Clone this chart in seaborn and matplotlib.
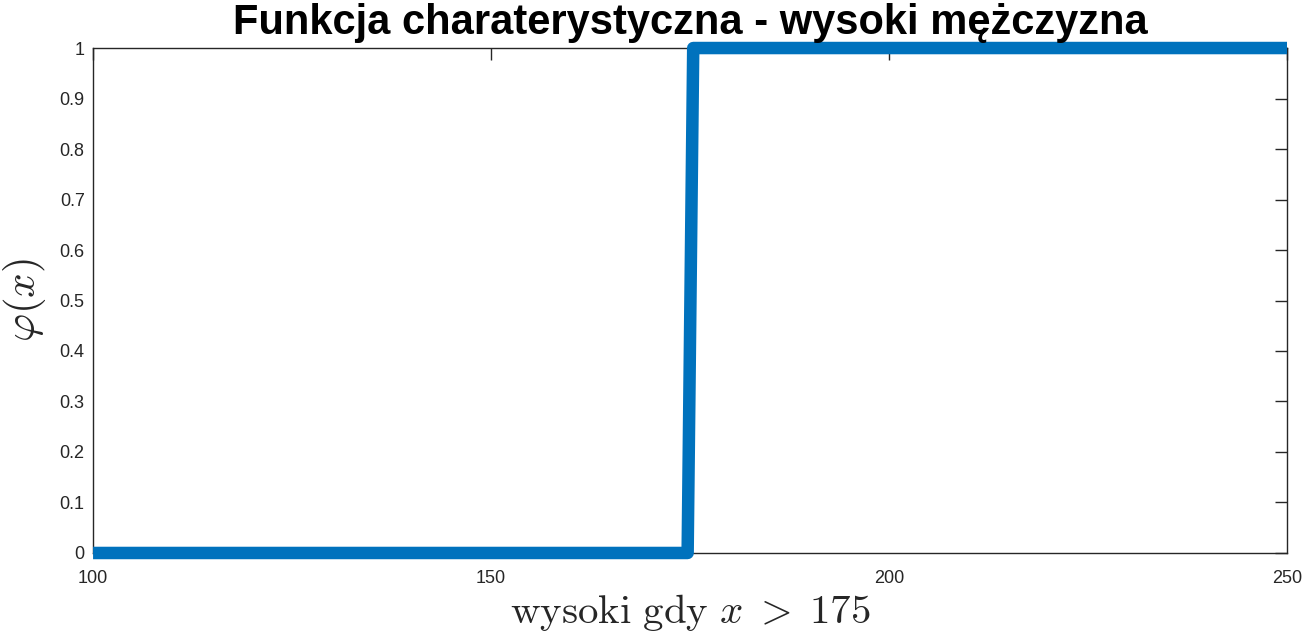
import numpy as np
import matplotlib
matplotlib.use('Agg')
import matplotlib.pyplot as plt
import seaborn as sns
import pandas as pd

# step function data
wzrost = [100, 174.7, 175.4, 250]
phi = [0, 0, 1, 1]

x_ticks = [100, 150, 200, 250]
y_ticks = [0, 0.1, 0.2, 0.3, 0.4, 0.5, 0.6, 0.7, 0.8, 0.9, 1]
y_tick_labels = ['0', '0.1', '0.2', '0.3', '0.4', '0.5', '0.6', '0.7', '0.8', '0.9', '1']

sns.set_style('white')
plt.rcParams['font.family'] = ['Liberation Sans', 'DejaVu Sans']
plt.rcParams['mathtext.fontset'] = 'cm'

df = pd.DataFrame({'x': wzrost, 'phi': phi})

fig = plt.figure(figsize=(13.07, 6.37), dpi=100)
ax = fig.add_axes([0.0712, 0.1319, 0.9135, 0.7927])

sns.lineplot(data=df, x='x', y='phi', ax=ax, color='#0072BD', linewidth=9,
             solid_capstyle='butt', solid_joinstyle='round', clip_on=False, zorder=3)

ax.set_xlim(100, 250)
ax.set_ylim(0, 1)
ax.set_xticks(x_ticks)
ax.set_yticks(y_ticks)
ax.set_yticklabels(y_tick_labels)

for s in ax.spines.values():
    s.set_color('#262626')
    s.set_linewidth(1.0)
ax.tick_params(direction='in', length=8.5, width=1.0, colors='#262626',
               labelsize=13, top=True, right=True, pad=6)
ax.tick_params(axis='x', pad=12)

ax.set_title('Funkcja charaterystyczna - wysoki mężczyzna', fontsize=30,
             fontweight='bold', color='black', pad=10)
ax.set_xlabel(r'$\mathrm{wysoki\ gdy}\ x\;>\;175$', fontsize=29.5, labelpad=4,
              color='#262626')
ax.set_ylabel(r'$\varphi(x)$', fontsize=31, labelpad=8, color='#262626')

fig.savefig('out.png', dpi=100)
